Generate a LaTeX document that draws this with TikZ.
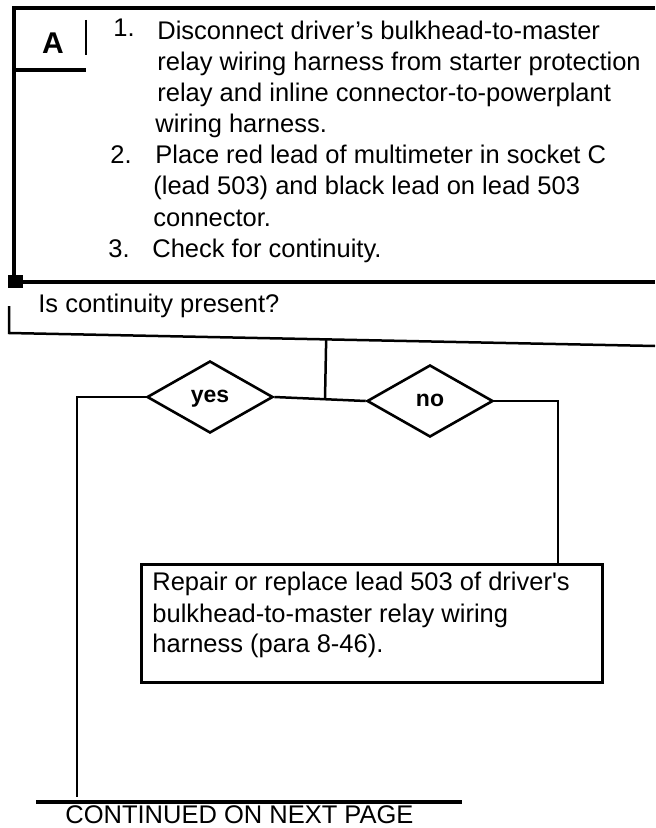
\documentclass[tikz,border=0pt]{standalone}
\usepackage{fontspec}
\setmainfont{Liberation Sans}
\usetikzlibrary{shapes.geometric,calc}

\tikzset{
  body/.style={anchor=base west, inner sep=0pt, font=\fontsize{12.75}{15.5}\selectfont},
  decision/.style={draw, diamond, line width=1.3pt, minimum width=63pt,
    minimum height=36pt, inner sep=0pt, text height=1ex, text depth=0pt,
    font=\bfseries\fontsize{11.5}{13}\selectfont},
  link/.style={line width=1.25pt},
  rule/.style={line width=2.25pt},
  repairbox/.style={draw, line width=1.5pt, anchor=north west, inner sep=0pt,
    minimum width=230.5pt, minimum height=59pt},
}

\begin{document}
\begin{tikzpicture}[x=0.5pt,y=-0.5pt]
  \useasboundingbox (0,0) rectangle (655,828);
  % Step box
  \draw[rule] (12,8) -- (655,8);
  \draw[line width=1.6pt] (14,8) -- (14,282);
  \draw[rule] (9,282) -- (655,282);
  \fill (8,275) rectangle (23,288);
  \node[font=\bfseries\fontsize{15}{18}\selectfont, inner sep=0pt] (tag) at (53,43) {A};
  \draw[line width=1.6pt] (14,70) -- (86,70);
  \draw[line width=1pt] (86,20) -- (86,55);
  \node[body] (n1) at (113,37) {1.};
  \node[body] (s1a) at (157,40) {Disconnect driver’s bulkhead-to-master};
  \node[body] (s1b) at (157,71) {relay wiring harness from starter protection};
  \node[body] (s1c) at (157,102) {relay and inline connector-to-powerplant};
  \node[body] (s1d) at (155,133) {wiring harness.};
  \node[body] (n2) at (110,164) {2.};
  \node[body] (s2a) at (155,164) {Place red lead of multimeter in socket C};
  \node[body] (s2b) at (153,195) {(lead 503) and black lead on lead 503};
  \node[body] (s2c) at (153,227) {connector.};
  \node[body] (n3) at (108,258) {3.};
  \node[body] (s3a) at (152,258) {Check for continuity.};
  % Question
  \node[body] (ask) at (38,312) {Is continuity present?};
  \coordinate (qL) at (9,333);
  \coordinate (qR) at (655,346);
  \draw[link] (9,306) -- (qL) -- (qR);
  % Answers
  \node[decision] (yes) at (210,397) {yes};
  \node[decision] (no) at (430,401) {no};
  \coordinate (jn) at (325,399);
  \draw[link] ($(qL)!(jn)!(qR)$) -- (jn);
  \draw[link] (yes.east) -- (no.west);
  % Repair
  \node[repairbox] (repair) at (140,563) {};
  \node[body] (r1) at (152,590) {Repair or replace lead 503 of driver\textquotesingle s};
  \node[body] (r2) at (152,622) {bulkhead-to-master relay wiring};
  \node[body] (r3) at (152,652) {harness (para 8-46).};
  \draw[link] (no.east) -| ([xshift=-23pt]repair.north east);
  % Continued
  \coordinate (contEnd) at (77,797);
  \draw[link] (yes.west) -| (contEnd);
  \draw[line width=1.7pt] (36,802) -- (462,802);
  \node[body] (cont) at (65,823) {CONTINUED ON NEXT PAGE};
\end{tikzpicture}
\end{document}
